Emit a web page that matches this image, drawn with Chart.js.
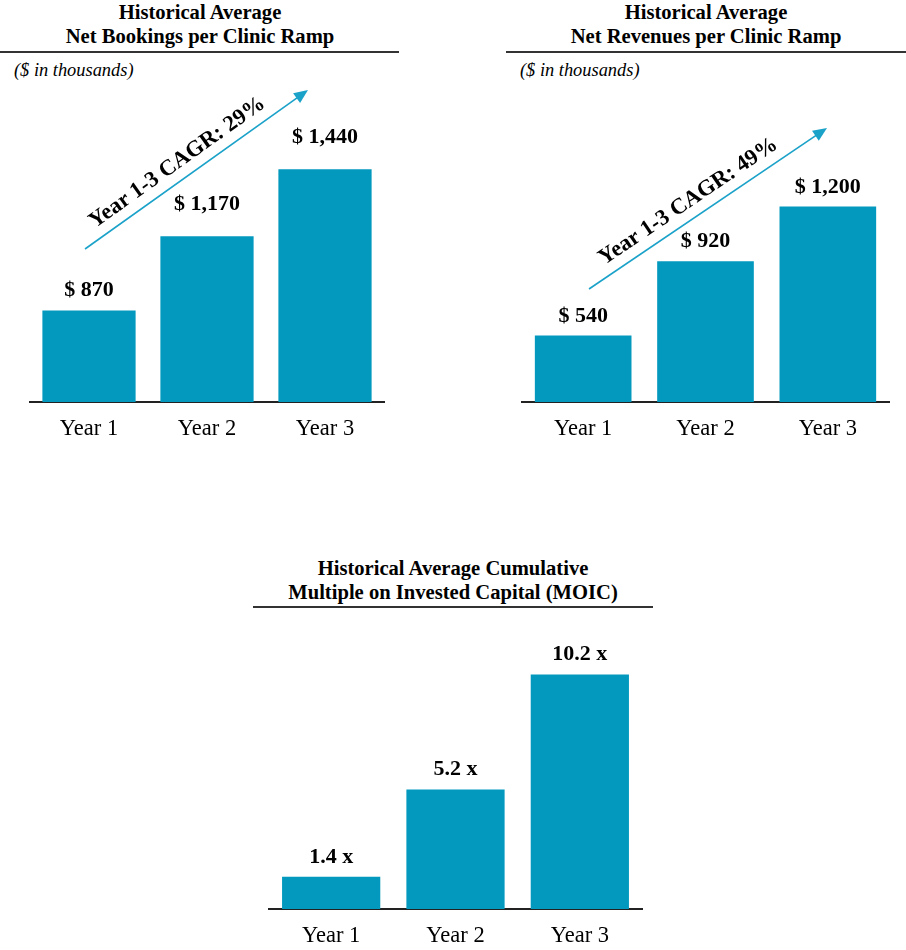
<!DOCTYPE html>
<html>
<head>
<meta charset="utf-8">
<script src="https://cdn.jsdelivr.net/npm/chart.js@4.4.1/dist/chart.umd.min.js"></script>
<style>
  body { margin: 0; background: #fff; font-family: "Liberation Serif", "Times New Roman", serif; color: #000; }
  #page { position: relative; width: 906px; height: 950px; overflow: hidden; }
  .title { position: absolute; text-align: center; font-weight: bold; font-size: 20.6px; line-height: 24px; }
  .rule { position: absolute; height: 1.5px; background: #333; }
  .unit { position: absolute; font-style: italic; font-size: 18.4px; line-height: 20px; }
  canvas { position: absolute; }
</style>
</head>
<body>
<div id="page">
  <div class="title" style="left:0;top:0;width:400px;">Historical Average<br>Net Bookings per Clinic Ramp</div>
  <div class="rule" style="left:0;top:51px;width:399px;"></div>
  <div class="unit" style="left:14px;top:60px;">($ in thousands)</div>

  <div class="title" style="left:506px;top:0;width:400px;">Historical Average<br>Net Revenues per Clinic Ramp</div>
  <div class="rule" style="left:506px;top:51px;width:400px;"></div>
  <div class="unit" style="left:520px;top:60px;">($ in thousands)</div>

  <div class="title" style="left:253px;top:556px;width:400px;">Historical Average Cumulative<br>Multiple on Invested Capital (MOIC)</div>
  <div class="rule" style="left:253px;top:606px;width:400px;"></div>

  <canvas id="bookingsChart" width="420" height="460" style="left:0;top:0;"></canvas>
  <canvas id="revenuesChart" width="406" height="460" style="left:500px;top:0;"></canvas>
  <canvas id="moicChart" width="420" height="350" style="left:250px;top:600px;"></canvas>
</div>

<script>
// data
const years = ['Year 1', 'Year 2', 'Year 3'];
const bookings = [870, 1170, 1440];   // $ thousands
const revenues = [540, 920, 1200];    // $ thousands
const moic = [1.4, 5.2, 10.2];        // x

const BAR = '#0399be';
const ARROW = '#1ba2c9';
const SERIF = '"Liberation Serif", "Times New Roman", serif';

const fmtMoney = v => '$ ' + v.toLocaleString('en-US');
const fmtMult = v => v.toFixed(1) + ' x';
const cagr = arr => Math.round((Math.pow(arr[arr.length - 1] / arr[0], 1 / (arr.length - 1)) - 1) * 100);

// value labels above each bar
function barLabels(fmt, extraLift) {
  return {
    id: 'barLabels',
    afterDatasetsDraw(chart) {
      const ctx = chart.ctx;
      const vals = chart.data.datasets[0].data;
      ctx.save();
      ctx.font = 'bold 22px ' + SERIF;
      ctx.fillStyle = '#000';
      ctx.textAlign = 'center';
      ctx.textBaseline = 'alphabetic';
      chart.getDatasetMeta(0).data.forEach((bar, i) => {
        const lift = 14 + (extraLift ? extraLift[i] : 0);
        ctx.fillText(fmt(vals[i]), bar.x, bar.y - lift);
      });
      ctx.restore();
    }
  };
}

// growth arrow with rotated CAGR text
function cagrArrow(x0, y0, x1, y1, text, along) {
  return {
    id: 'cagrArrow',
    afterDraw(chart) {
      const ctx = chart.ctx;
      const ang = Math.atan2(y1 - y0, x1 - x0);
      ctx.save();
      ctx.strokeStyle = ARROW;
      ctx.fillStyle = ARROW;
      ctx.lineWidth = 1.6;
      ctx.beginPath();
      ctx.moveTo(x0, y0);
      ctx.lineTo(x1 - 10 * Math.cos(ang), y1 - 10 * Math.sin(ang));
      ctx.stroke();
      ctx.translate(x1, y1);
      ctx.rotate(ang);
      ctx.beginPath();
      ctx.moveTo(0, 0);
      ctx.lineTo(-14, -6);
      ctx.lineTo(-14, 6);
      ctx.closePath();
      ctx.fill();
      ctx.restore();

      ctx.save();
      ctx.translate(x0, y0);
      ctx.rotate(ang);
      ctx.font = 'bold 22.5px ' + SERIF;
      ctx.fillStyle = '#000';
      ctx.textAlign = 'left';
      ctx.textBaseline = 'alphabetic';
      ctx.fillText(text, along, -11);
      ctx.restore();
    }
  };
}

function makeChart(id, values, yMin, yMax, pad, plugins) {
  return new Chart(document.getElementById(id), {
    type: 'bar',
    data: {
      labels: years,
      datasets: [{
        data: values,
        backgroundColor: BAR,
        borderWidth: 0,
        categoryPercentage: 1,
        barPercentage: 0.79
      }]
    },
    options: {
      responsive: false,
      animation: false,
      devicePixelRatio: 1,
      layout: { padding: pad },
      plugins: { legend: { display: false }, tooltip: { enabled: false } },
      scales: {
        x: {
          grid: { display: false, drawTicks: false },
          border: { display: true, color: '#222', width: 2 },
          ticks: { color: '#000', font: { family: SERIF, size: 22.5 }, padding: 14 },
          afterFit(s) { s.height = 40; }
        },
        y: { display: false, min: yMin, max: yMax }
      }
    },
    plugins: plugins
  });
}

makeChart('bookingsChart', bookings, 500, 1720,
  { left: 30, right: 36, top: 100, bottom: 18 },
  [barLabels(fmtMoney, [0, 12, 12]),
   cagrArrow(85, 249, 308, 90, 'Year 1-3 CAGR: ' + cagr(bookings) + '%', 20)]);

makeChart('revenuesChart', revenues, 200, 1745,
  { left: 22, right: 17, top: 100, bottom: 18 },
  [barLabels(fmtMoney),
   cagrArrow(89, 289, 327, 128, 'Year 1-3 CAGR: ' + cagr(revenues) + '%', 26)]);

makeChart('moicChart', moic, 0, 11.26,
  { left: 19, right: 28, top: 50, bottom: 1 },
  [barLabels(fmtMult)]);
</script>
</body>
</html>
